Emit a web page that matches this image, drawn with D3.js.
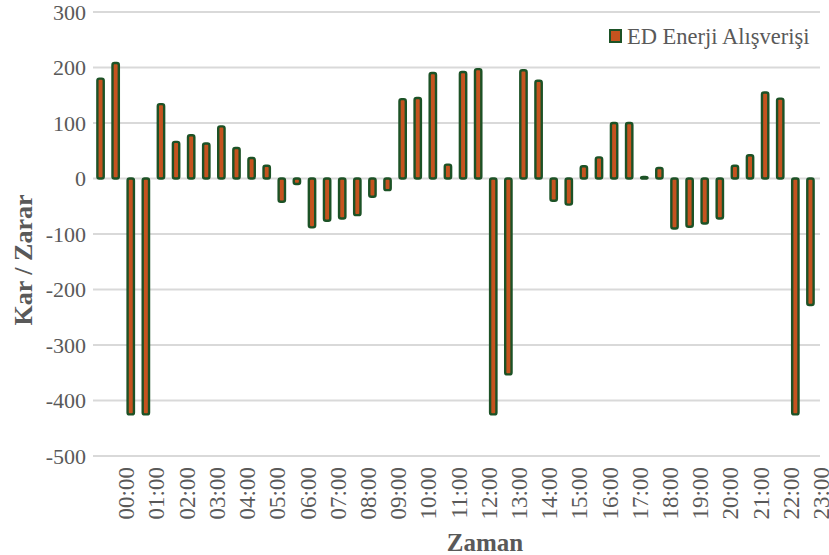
<!DOCTYPE html>
<html>
<head>
<meta charset="utf-8">
<script src="https://cdn.jsdelivr.net/npm/d3@7"></script>
<style>
  body { margin: 0; background: #fff; }
  svg text { font-family: "Liberation Serif", "Times New Roman", serif; fill: #595959; }
</style>
</head>
<body>
<div id="chart"></div>
<script>
// half-hour slots
const times = [
  "00:00","00:30","01:00","01:30","02:00","02:30","03:00","03:30",
  "04:00","04:30","05:00","05:30","06:00","06:30","07:00","07:30",
  "08:00","08:30","09:00","09:30","10:00","10:30","11:00","11:30",
  "12:00","12:30","13:00","13:30","14:00","14:30","15:00","15:30",
  "16:00","16:30","17:00","17:30","18:00","18:30","19:00","19:30",
  "20:00","20:30","21:00","21:30","22:00","22:30","23:00","23:30"
];
const values = [
  180, 208, -425, -425, 134, 66, 78, 63, 94, 55, 37, 23,
  -42, -10, -88, -76, -72, -66, -33, -21, 143, 145, 190, 25,
  192, 197, -425, -353, 195, 176, -40, -47, 22, 38, 100, 100,
  3, 19, -90, -87, -81, -72, 23, 42, 155, 144, -425, -228
];
const hourLabels = [
  "00:00","01:00","02:00","03:00","04:00","05:00","06:00","07:00",
  "08:00","09:00","10:00","11:00","12:00","13:00","14:00","15:00",
  "16:00","17:00","18:00","19:00","20:00","21:00","22:00","23:00"
];
const yTicks = [300, 200, 100, 0, -100, -200, -300, -400, -500];
const seriesName = "ED Enerji Alışverişi";

const width = 829, height = 555;
const margin = { top: 12, right: 11, bottom: 99, left: 93 };

const fillColor = "#C5531F";
const strokeColor = "#1C5226";

const svg = d3.select("#chart").append("svg")
  .attr("width", width)
  .attr("height", height);

const x = d3.scaleBand()
  .domain(times)
  .range([margin.left, width - margin.right])
  .paddingInner(0.58)
  .paddingOuter(0.29);

const y = d3.scaleLinear()
  .domain([-500, 300])
  .range([height - margin.bottom, margin.top]);

//gridlines
svg.append("g")
  .selectAll("line")
  .data(yTicks)
  .join("line")
  .attr("x1", margin.left)
  .attr("x2", width - margin.right + 2)
  .attr("y1", d => y(d))
  .attr("y2", d => y(d))
  .attr("stroke", "#D9D9D9")
  .attr("stroke-width", 1.8);

//y tick labels
svg.append("g")
  .selectAll("text")
  .data(yTicks)
  .join("text")
  .attr("x", margin.left - 7)
  .attr("y", d => y(d))
  .attr("dy", "0.35em")
  .attr("text-anchor", "end")
  .style("font-size", "22px")
  .text(d => d);

//bars
svg.append("g")
  .selectAll("rect")
  .data(values)
  .join("rect")
  .attr("x", (d, i) => x(times[i]))
  .attr("width", x.bandwidth())
  .attr("y", d => y(Math.max(0, d)))
  .attr("height", d => Math.max(1, Math.abs(y(d) - y(0))))
  .attr("rx", 2)
  .attr("fill", fillColor)
  .attr("stroke", strokeColor)
  .attr("stroke-width", 2.4);

//x tick labels (one per hour)
svg.append("g")
  .selectAll("text")
  .data(hourLabels)
  .join("text")
  .attr("transform", (d, i) => {
    const cx = x(times[2 * i + 1]) + x.bandwidth() / 2 + x.step() / 2 + 3;
    return `translate(${cx},${height - margin.bottom + 11}) rotate(-90)`;
  })
  .attr("dy", "0.35em")
  .attr("text-anchor", "end")
  .style("font-size", "23px")
  .text(d => d);

//axis titles
svg.append("text")
  .attr("x", 485)
  .attr("y", 551)
  .attr("text-anchor", "middle")
  .style("font-size", "25px")
  .style("font-weight", "bold")
  .text("Zaman");

svg.append("text")
  .attr("transform", "translate(32,260) rotate(-90)")
  .attr("text-anchor", "middle")
  .style("font-size", "26px")
  .style("font-weight", "bold")
  .text("Kar / Zarar");

//legend
svg.append("rect")
  .attr("x", 610)
  .attr("y", 30)
  .attr("width", 11)
  .attr("height", 12)
  .attr("fill", fillColor)
  .attr("stroke", strokeColor)
  .attr("stroke-width", 2);

svg.append("text")
  .attr("x", 627)
  .attr("y", 44)
  .style("font-size", "22.5px")
  .text(seriesName);
</script>
</body>
</html>
